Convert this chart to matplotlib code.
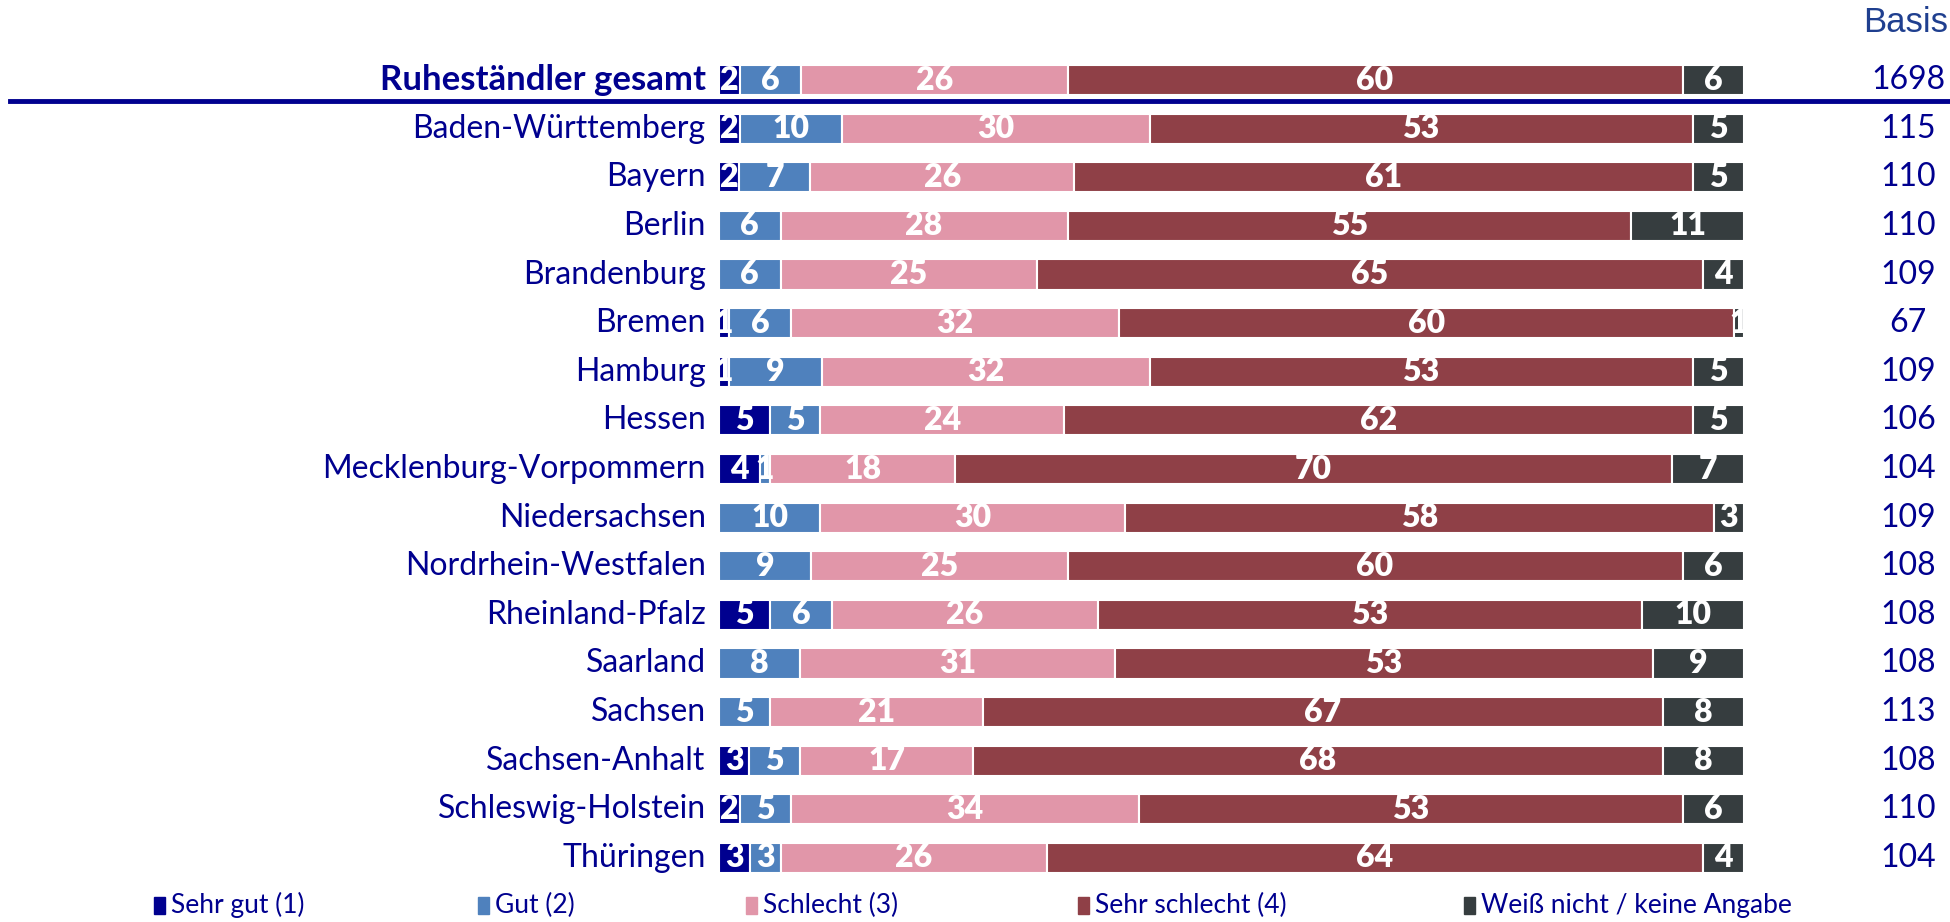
import matplotlib
matplotlib.use("Agg")
import matplotlib.pyplot as plt
from matplotlib.patches import Rectangle
from matplotlib.lines import Line2D
import numpy as np

plt.rcParams['font.family'] = ['Lato', 'DejaVu Sans']

regions = ["Ruheständler gesamt", "Baden-Württemberg", "Bayern", "Berlin", "Brandenburg",
           "Bremen", "Hamburg", "Hessen", "Mecklenburg-Vorpommern", "Niedersachsen",
           "Nordrhein-Westfalen", "Rheinland-Pfalz", "Saarland", "Sachsen",
           "Sachsen-Anhalt", "Schleswig-Holstein", "Thüringen"]
sehr_gut = [2, 2, 2, 0, 0, 1, 1, 5, 4, 0, 0, 5, 0, 0, 3, 2, 3]
gut = [6, 10, 7, 6, 6, 6, 9, 5, 1, 10, 9, 6, 8, 5, 5, 5, 3]
schlecht = [26, 30, 26, 28, 25, 32, 32, 24, 18, 30, 25, 26, 31, 21, 17, 34, 26]
sehr_schlecht = [60, 53, 61, 55, 65, 60, 53, 62, 70, 58, 60, 53, 53, 67, 68, 53, 64]
weiss_nicht = [6, 5, 5, 11, 4, 1, 5, 5, 7, 3, 6, 10, 9, 8, 8, 6, 4]
basis = [1698, 115, 110, 110, 109, 67, 109, 106, 104, 109, 108, 108, 108, 113, 108, 110, 104]

series_names = ["Sehr gut (1)", "Gut (2)", "Schlecht (3)", "Sehr schlecht (4)",
                "Weiß nicht / keine Angabe"]
colors = ["#00008f", "#4f81bd", "#e196a9", "#8f4047", "#363d3f"]
navy = "#00008f"

W, H = 1950, 922
fig = plt.figure(figsize=(W / 100, H / 100), dpi=100)
ax = fig.add_axes([719 / W, 1 - 882.3 / H, 1025 / W, 826.6 / H])

data = np.array([sehr_gut, gut, schlecht, sehr_schlecht, weiss_nicht], dtype=float)
widths = data / data.sum(axis=0) * 100
y = np.arange(len(regions))

left = np.zeros(len(regions))
for k in range(len(series_names)):
    bars = ax.barh(y, widths[k], left=left, height=0.62, color=colors[k],
                   edgecolor="white", linewidth=1.5)
    for i, b in enumerate(bars):
        v = int(data[k][i])
        if v == 0:
            continue
        t = ax.text(left[i] + widths[k][i] / 2, i, str(v), ha="center", va="center",
                    color="white", fontsize=23, fontweight="heavy")
        t.set_clip_path(b)
    left += widths[k]

ax.set_xlim(0, 100)
ax.set_ylim(len(regions) - 0.5, -0.5)
ax.axis("off")

for i, name in enumerate(regions):
    ax.text(-1.3, i, name, ha="right", va="center", color=navy,
            fontsize=25 if i == 0 else 23,
            fontweight="bold" if i == 0 else "normal")
    ax.text(116.0, i, str(basis[i]), ha="center", va="center", color=navy, fontsize=23)

fig.text(1948 / W, 1 - 22 / H, "Basis", ha="right", va="center", color="#1f3f8f",
         fontsize=25, family=["Liberation Sans"])

fig.add_artist(Line2D([10 / W, 1], [1 - 101.5 / H, 1 - 101.5 / H], color=navy, linewidth=3.5))

legend_x = [154, 478, 746, 1078, 1464]
for name, c, lx in zip(series_names, colors, legend_x):
    fig.add_artist(Rectangle((lx / W, 1 - 914 / H), 11 / W, 17 / H, color=c,
                             transform=fig.transFigure))
    fig.text((lx + 17) / W, 1 - 905 / H, name, ha="left", va="center", color=navy,
             fontsize=19)

fig.savefig("out.png", dpi=100)
